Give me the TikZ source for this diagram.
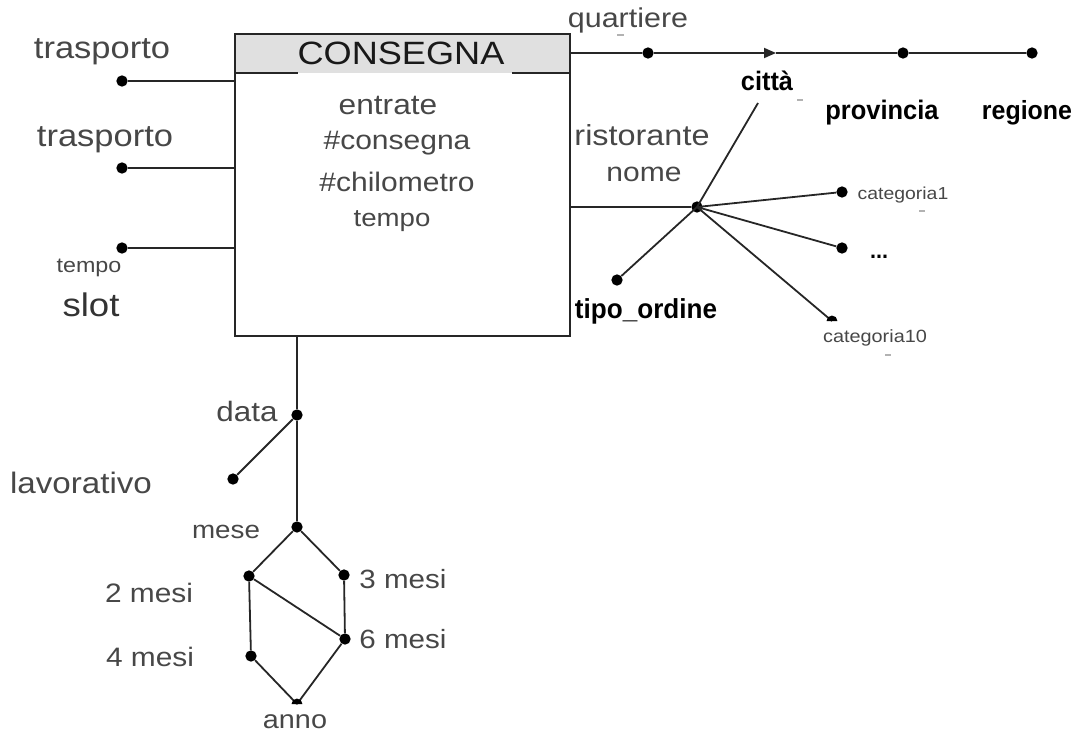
\documentclass[tikz,border=0pt]{standalone}
\usepackage{fontspec}
\setmainfont{Liberation Sans}
\newfontfamily\reg[FakeStretch=1.12]{Liberation Sans}
\newfontfamily\bld[FakeStretch=0.95]{Liberation Sans}
\usetikzlibrary{arrows.meta}
\definecolor{txtgray}{HTML}{474747}
\definecolor{linegray}{HTML}{262626}
\definecolor{headgray}{HTML}{E0E0E0}
\newcommand{\fsz}[1]{\fontsize{#1pt}{#1pt}\selectfont}
\tikzset{
  dot/.style={circle, fill=black, inner sep=0pt, minimum size=8.5pt},
  lbl/.style={inner sep=0pt, text=txtgray, font=\reg},
  blbl/.style={inner sep=0pt, text=black, font=\bld\bfseries},
  conn/.style={draw=linegray, line width=1.35pt},
  tick/.style={draw=gray!60, line width=0.8pt},
}
\begin{document}
\begin{tikzpicture}[x=0.75pt, y=-0.75pt]
\useasboundingbox (0,0) rectangle (1085,735);
% header
\fill[headgray] (234,33) rectangle (569,73);
\node[draw=linegray, line width=1.4pt, minimum width=251.25pt, minimum height=226.5pt, anchor=north west, inner sep=0pt] (box) at (234,33) {};
\draw[linegray, line width=1.35pt] (234,73) -- (298,73) (512,73) -- (569,73);
\node[lbl, text=black!90] (title) at (401,53) {\fsz{24.2}CONSEGNA};
\node[lbl] (m1) at (388,106) {\fsz{21.2}entrate};
\node[lbl] (m2t) at (397,143) {\fsz{20.1}\#consegna};
\node[lbl] (m3t) at (397,182) {\fsz{20.1}\#chilometro};
\node[lbl] (m4t) at (392,221) {\fsz{18.5}tempo};
% left
\node[dot] (d1) at (122,81) {};
\node[dot] (d2) at (122,168) {};
\node[dot] (d3) at (122,248) {};
\draw[conn] (d1) -- (d1 -| box.west);
\draw[conn] (d2) -- (d2 -| box.west);
\draw[conn] (d3) -- (d3 -| box.west);
\node[lbl] (l1) at (102,52) {\fsz{23.1}trasporto};
\node[lbl] (l2) at (105,140) {\fsz{23.1}trasporto};
\node[lbl] (l3) at (89,268) {\fsz{15.6}tempo};
\node[lbl, text=black!80] (l4) at (91,305) {\fsz{24.5}slot};
% top right
\node[dot] (q) at (648,53) {};
\coordinate (city) at (776,53);
\node[dot] (prov) at (903,53) {};
\node[dot] (reg) at (1032,53) {};
\draw[conn] (q -| box.east) -- (q);
\draw[conn, -{Triangle[length=9pt,width=7.5pt]}] (q) -- (city);
\draw[conn] (city) -- (prov) -- (reg);
\node[lbl] (lq) at (628,20) {\fsz{20.4}quartiere};
\draw[tick] (617,35) -- (624,35);
\node[blbl] (lc) at (767,81) {\fsz{20}città};
\draw[tick] (797,100) -- (803,100);
\node[blbl] (lp) at (882,113) {\fsz{20.1}provincia};
\node[blbl] (lr) at (1027,113) {\fsz{19.7}regione};
% ristorante
\node[dot] (hub) at (697,207) {};
\coordinate (cityend) at (758,103);
\draw[conn] (hub.center) -- (cityend);
\draw[conn] (hub -| box.east) -- (hub);
\node[lbl] (lrist) at (642,135) {\fsz{21.7}ristorante};
\node[lbl] (lnome) at (644,174) {\fsz{20.1}nome};
\node[dot] (c1) at (842,192) {};
\node[dot] (cdots) at (842,248) {};
\coordinate (c10) at (832,321);
\draw[conn] (hub.center) -- (c1);
\draw[conn] (hub.center) -- (cdots);
\draw[conn] (hub.center) -- (c10);
\fill[black] (c10) ++(-5.5,0) arc[start angle=180, end angle=0, radius=4.1pt] -- cycle;
\node[lbl] (lc1) at (903,195) {\fsz{13}categoria1};
\draw[tick] (919,211) -- (925,211);
\node[inner sep=0pt, font=\bld\bfseries] (ldots) at (879,257) {\fsz{17}...};
\node[lbl] (lc10) at (875,338) {\fsz{13.3}categoria10};
\draw[tick] (885,355) -- (891,355);
\node[dot] (tipo) at (617,280) {};
\draw[conn] (hub.center) -- (tipo);
\node[blbl] (ltipo) at (646,311) {\fsz{20.6}tipo\_ordine};
% bottom
\node[dot] (data) at (297,415) {};
\node[dot] (lav) at (233,479) {};
\node[dot] (mese) at (297,527) {};
\node[dot] (n2) at (249,576) {};
\node[dot] (n3) at (344,575) {};
\node[dot] (n6) at (345,639) {};
\node[dot] (n4) at (251,656) {};
\coordinate (anno) at (297,704);
\draw[conn] (data |- box.south) -- (data) -- (mese);
\draw[conn] (data) -- (lav);
\draw[conn] (mese) -- (n2);
\draw[conn] (mese) -- (n3);
\draw[conn] (n2) -- (n4);
\draw[conn] (n2) -- (n6);
\draw[conn] (n3) -- (n6);
\draw[conn] (n4) -- (anno);
\draw[conn] (n6) -- (anno);
\fill[black] (anno) ++(-5.5,0) arc[start angle=180, end angle=0, radius=4.1pt] -- cycle;
\node[lbl] (ldata) at (247,411) {\fsz{21}data};
\node[lbl] (llav) at (81,483) {\fsz{22.2}lavorativo};
\node[lbl] (lmese) at (226,532) {\fsz{18.6}mese};
\node[lbl] (l2m) at (149,593) {\fsz{20}2 mesi};
\node[lbl] (l3m) at (403,579) {\fsz{19.8}3 mesi};
\node[lbl] (l6m) at (403,639) {\fsz{19.8}6 mesi};
\node[lbl] (l4m) at (150,657) {\fsz{20}4 mesi};
\node[lbl] (lanno) at (295,722) {\fsz{19.3}anno};
\end{tikzpicture}
\end{document}
